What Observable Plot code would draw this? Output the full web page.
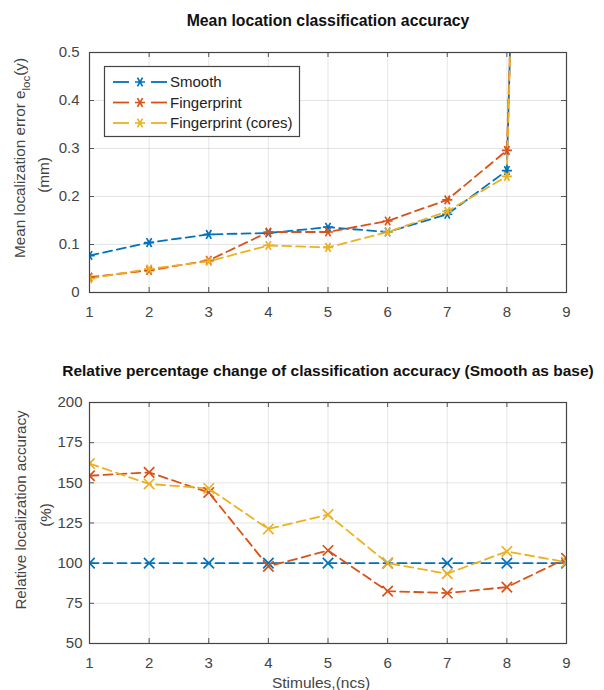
<!DOCTYPE html>
<html><head><meta charset="utf-8">
<script src="https://cdn.jsdelivr.net/npm/d3@7"></script>
<script src="https://cdn.jsdelivr.net/npm/@observablehq/plot@0.6"></script>
<style>body{margin:0;background:#fff;} svg{display:block}</style>
</head><body><div id="c"></div>
<script>
const stimuli = [1, 2, 3, 4, 5, 6, 7, 8, 9];
const seriesNames = ["Smooth", "Fingerprint", "Fingerprint (cores)"];
const colors = ["#0072BD", "#D95319", "#EDB120"];
// Mean localization error (mm); the 9th values are far off the top of the chart
const errSmooth = [0.077, 0.104, 0.121, 0.124, 0.136, 0.126, 0.163, 0.254, 5.0];
const errFinger = [0.032, 0.046, 0.067, 0.126, 0.126, 0.149, 0.193, 0.296, 4.2];
const errCores  = [0.029, 0.049, 0.065, 0.098, 0.094, 0.126, 0.169, 0.242, 5.0];
// Relative localization accuracy (%)
const relSmooth = [100, 100, 100, 100, 100, 100, 100, 100, 100];
const relFinger = [154.4, 156.5, 144, 98, 107.9, 82.6, 81.4, 85.1, 103];
const relCores  = [162, 149.3, 146.5, 121.3, 130.2, 100, 93.4, 107.3, 100.6];
const errTicks = [0, 0.1, 0.2, 0.3, 0.4, 0.5];
const relTicks = [50, 75, 100, 125, 150, 175, 200];

const FONT = "'Liberation Sans', Arial, Helvetica, sans-serif";
const W = 604, ML = 89, MR = 38;

function longData(arrs) {
  return arrs.flatMap((a, i) => a.map((v, j) => ({x: stimuli[j], y: v, s: seriesNames[i]})));
}

function chart({data, yDomain, yTicks, yFmt, yPad, height, marginTop, marginBottom, symbol, rotate, title, titleSize, xLabel}) {
  const ph = height - marginTop - marginBottom, pw = W - ML - MR;
  const marks = [
    Plot.gridX(stimuli, {stroke: "#000", strokeOpacity: 0.1, strokeWidth: 1}),
    Plot.gridY(yTicks, {stroke: "#000", strokeOpacity: 0.1, strokeWidth: 1}),
    Plot.axisX(stimuli, {anchor: "bottom", tickSize: 0, tickPadding: 14, label: null, fontSize: 15, fill: "#444"}),
    Plot.axisY(yTicks, {anchor: "left", tickSize: 0, tickPadding: yPad, label: null, fontSize: 15, fill: "#444", tickFormat: yFmt}),
    Plot.tickX(stimuli, {x: d => d, insetTop: ph - 5, stroke: "#555"}),
    Plot.tickX(stimuli, {x: d => d, insetBottom: ph - 5, stroke: "#555"}),
    Plot.tickY(yTicks, {y: d => d, insetRight: pw - 5, stroke: "#555"}),
    Plot.tickY(yTicks, {y: d => d, insetLeft: pw - 5, stroke: "#555"}),
    Plot.line(data, {x: "x", y: "y", z: "s", stroke: "s", strokeWidth: 1.8, strokeDasharray: "9,5", clip: true}),
    Plot.dot(data, {x: "x", y: "y", stroke: "s", symbol, rotate, r: 4.8, strokeWidth: 1.7, clip: true}),
    Plot.frame({stroke: "#444", strokeWidth: 1.2}),
    Plot.text([title], {frameAnchor: "top", dy: -38, fontWeight: "bold", fontSize: titleSize, fill: "#111"})
  ];
  if (xLabel) marks.push(Plot.text([xLabel], {frameAnchor: "bottom", dy: 44, dx: -7, fontSize: 15.5, fill: "#444"}));
  return Plot.plot({
    width: W, height, marginLeft: ML, marginRight: MR, marginTop, marginBottom,
    style: {fontFamily: FONT, fontSize: "15px", color: "#444", background: "#fff"},
    x: {domain: [1, 9], ticks: stimuli, label: null},
    y: {domain: yDomain, ticks: yTicks, label: null},
    color: {domain: seriesNames, range: colors},
    marks
  });
}

const topChart = chart({
  data: longData([errSmooth, errFinger, errCores]),
  yDomain: [0, 0.5], yTicks: errTicks, yFmt: d => d === 0 ? "0" : d3.format(".1f")(d), yPad: 10,
  height: 340, marginTop: 52, marginBottom: 48,
  symbol: "asterisk", rotate: 90,
  title: "Mean location classification accuracy", titleSize: 15.8
});
const bottomChart = chart({
  data: longData([relSmooth, relFinger, relCores]),
  yDomain: [50, 200], yTicks: relTicks, yFmt: d => String(d), yPad: 7,
  height: 350, marginTop: 62, marginBottom: 47,
  symbol: "times", rotate: 0,
  title: "Relative percentage change of classification accuracy (Smooth as base)", titleSize: 15.5,
  xLabel: "Stimules,(ncs)"
});

// y-axis labels (two lines, rotated)
function yLabel(svg, size, x1, y1, x2, y2, parts, line2) {
  const s = d3.select(svg);
  const t = s.append("text").attr("transform", `translate(${x1},${y1}) rotate(-90)`)
    .attr("text-anchor", "middle").attr("dominant-baseline", "middle")
    .attr("font-family", FONT).attr("font-size", size).attr("fill", "#444");
  parts.forEach(p => {
    const ts = t.append("tspan").text(p.t);
    if (p.sub) ts.attr("baseline-shift", "sub").attr("font-size", size * 0.75);
  });
  s.append("text").attr("transform", `translate(${x2},${y2}) rotate(-90)`)
    .attr("text-anchor", "middle").attr("dominant-baseline", "middle")
    .attr("font-family", FONT).attr("font-size", size).attr("fill", "#444").text(line2);
}
yLabel(topChart, 15.3, 21, 158, 45, 175, [{t: "Mean localization error e"}, {t: "loc", sub: true}, {t: "(y)"}], "(mm)");
yLabel(bottomChart, 15.2, 22, 170, 47, 175, [{t: "Relative localization accuracy"}], "(%)");

// legend (top chart)
{
  const s = d3.select(topChart);
  const g = s.append("g");
  g.append("rect").attr("x", 104.5).attr("y", 66.5).attr("width", 195).attr("height", 70)
    .attr("fill", "#fff").attr("stroke", "#444").attr("stroke-width", 1.2);
  const sym = d3.symbol(d3.symbolAsterisk, Math.PI * 4.8 * 4.8)();
  seriesNames.forEach((n, i) => {
    const y = 82 + i * 20.5;
    g.append("line").attr("x1", 113).attr("x2", 129).attr("y1", y).attr("y2", y)
      .attr("stroke", colors[i]).attr("stroke-width", 1.8);
    g.append("line").attr("x1", 151).attr("x2", 167).attr("y1", y).attr("y2", y)
      .attr("stroke", colors[i]).attr("stroke-width", 1.8);
    g.append("path").attr("d", sym).attr("transform", `translate(140,${y}) rotate(90)`)
      .attr("fill", "none").attr("stroke", colors[i]).attr("stroke-width", 1.7);
    g.append("text").attr("x", 170).attr("y", y).attr("dy", "0.35em").attr("text-anchor", "start")
      .attr("font-family", FONT).attr("font-size", 15).attr("fill", "#222").text(n);
  });
}

document.getElementById("c").append(topChart, bottomChart);
</script>
</body></html>
